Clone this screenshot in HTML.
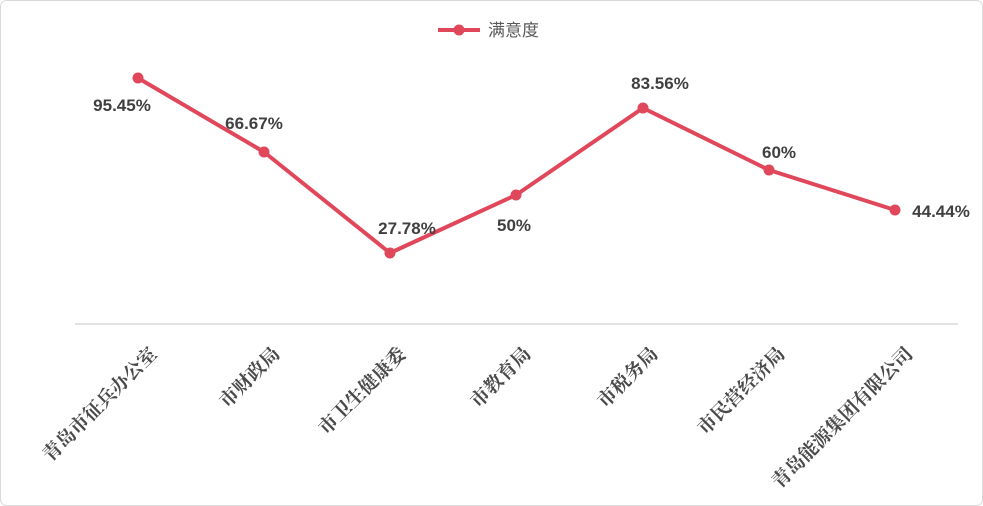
<!DOCTYPE html>
<html><head><meta charset="utf-8"><style>
html,body{margin:0;padding:0;background:#fff;}
svg{display:block;}
.dl{font-family:"Liberation Sans","Noto Sans CJK SC",sans-serif;font-weight:bold;font-size:17px;fill:#404040;text-anchor:middle;}
.xl{font-family:"Noto Serif CJK SC","Liberation Serif",serif;font-weight:bold;font-size:19px;fill:#4a4a4a;text-anchor:end;}
</style></head><body>
<svg width="983" height="506" viewBox="0 0 983 506">
<rect x="0.5" y="0.5" width="982" height="505" rx="6" fill="#fff" stroke="#d9d9d9"/>
<line x1="75" y1="324" x2="958" y2="324" stroke="#d9d9d9" stroke-width="1.5"/>
<line x1="438" y1="30" x2="480" y2="30" stroke="#e0475b" stroke-width="4"/>
<circle cx="459" cy="30" r="5.5" fill="#e0475b"/>
<text x="488" y="36" style="font-family:'Liberation Sans','Noto Sans CJK SC',sans-serif;font-size:17px;fill:#595959">满意度</text>
<polyline points="138,78 264,152 390,253 516,195 643,108 769,170 895,210" fill="none" stroke="#e0475b" stroke-width="4" stroke-linejoin="round"/>
<g fill="#e0475b">
<circle cx="138" cy="78" r="5.5"/><circle cx="264" cy="152" r="5.5"/><circle cx="390" cy="253" r="5.5"/><circle cx="516" cy="195" r="5.5"/><circle cx="643" cy="108" r="5.5"/><circle cx="769" cy="170" r="5.5"/><circle cx="895" cy="210" r="5.5"/>
</g>
<text class="dl" x="122" y="111">95.45%</text>
<text class="dl" x="254" y="129">66.67%</text>
<text class="dl" x="407" y="234">27.78%</text>
<text class="dl" x="514" y="231">50%</text>
<text class="dl" x="660" y="89">83.56%</text>
<text class="dl" x="779" y="158">60%</text>
<text class="dl" x="941" y="217">44.44%</text>
<g>
<text class="xl" transform="translate(158,355) rotate(-45)">青岛市征兵办公室</text>
<text class="xl" transform="translate(281,355) rotate(-45)">市财政局</text>
<text class="xl" transform="translate(407,355) rotate(-45)">市卫生健康委</text>
<text class="xl" transform="translate(532,355) rotate(-45)">市教育局</text>
<text class="xl" transform="translate(659,355) rotate(-45)">市税务局</text>
<text class="xl" transform="translate(786,355) rotate(-45)">市民营经济局</text>
<text class="xl" transform="translate(914,355) rotate(-45)">青岛能源集团有限公司</text>
</g>
</svg>
</body></html>
